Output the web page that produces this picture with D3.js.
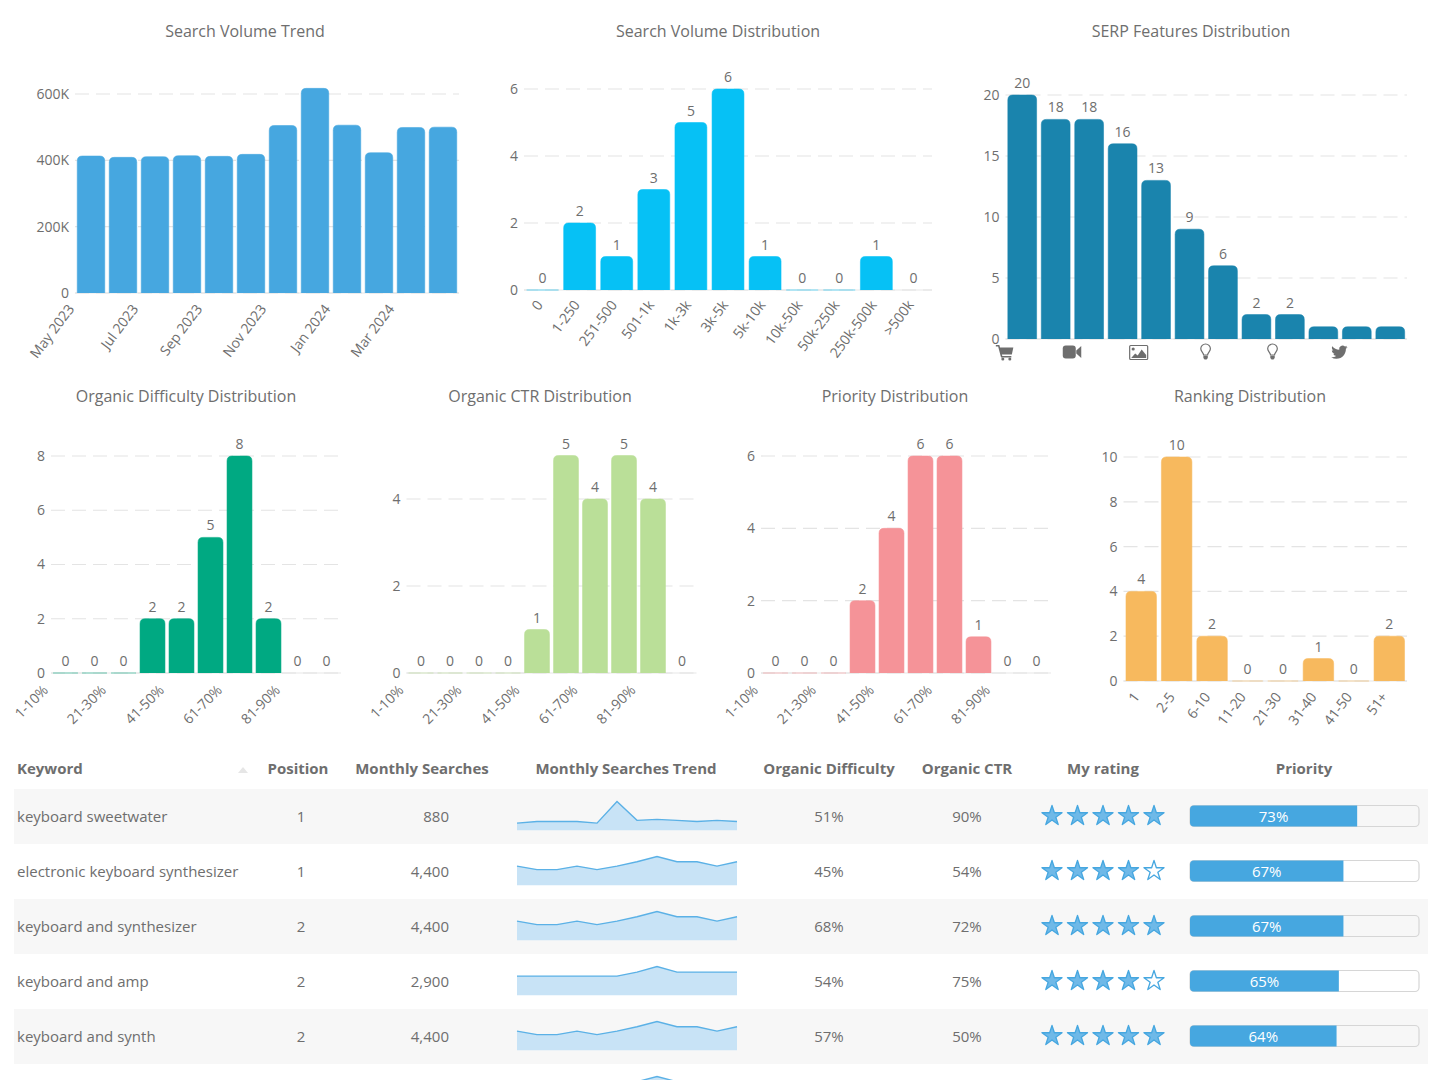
<!DOCTYPE html>
<html>
<head>
<meta charset="utf-8">
<title>Keyword overview</title>
<script src="https://cdn.jsdelivr.net/npm/d3@7"></script>
<style>
    html, body { margin: 0; padding: 0; background: #fff; overflow: hidden; }
    svg { display: block; }
    text { font-family: "Open Sans", sans-serif; fill: #6e6e6e; }
</style>
</head>
<body>
<svg id="page" width="1440" height="1080"></svg>
<script>
// chart data
const trendMonths = ["May 2023", "Jun 2023", "Jul 2023", "Aug 2023", "Sep 2023", "Oct 2023", "Nov 2023", "Dec 2023", "Jan 2024", "Feb 2024", "Mar 2024", "Apr 2024"];
const trendValues = [413000, 409000, 411000, 414000, 412000, 418000, 505000, 617000, 506000, 423000, 499000, 500000];

const volumeBuckets = ["0", "1-250", "251-500", "501-1k", "1k-3k", "3k-5k", "5k-10k", "10k-50k", "50k-250k", "250k-500k", ">500k"];
const volumeCounts = [0, 2, 1, 3, 5, 6, 1, 0, 0, 1, 0];

const serpFeatures = ["shopping", "reviews", "video", "people also ask", "images", "sitelinks", "tips", "knowledge", "answer", "news", "tweets", "local"];
const serpCounts = [20, 18, 18, 16, 13, 9, 6, 2, 2, 1, 1, 1];
const serpIcons = ["cart", "video", "image", "bulb", "bulb", "twitter"];

const percentBuckets = ["1-10%", "11-20%", "21-30%", "31-40%", "41-50%", "51-60%", "61-70%", "71-80%", "81-90%", "91-100%"];
const difficultyCounts = [0, 0, 0, 2, 2, 5, 8, 2, 0, 0];
const ctrCounts = [0, 0, 0, 0, 1, 5, 4, 5, 4, 0];
const priorityCounts = [0, 0, 0, 2, 4, 6, 6, 1, 0, 0];

const rankingBuckets = ["1", "2-5", "6-10", "11-20", "21-30", "31-40", "41-50", "51+"];
const rankingCounts = [4, 10, 2, 0, 0, 1, 0, 2];

// table data
const tableHeaders = ["Keyword", "Position", "Monthly Searches", "Monthly Searches Trend", "Organic Difficulty", "Organic CTR", "My rating", "Priority"];
const keywords = ["keyboard sweetwater", "electronic keyboard synthesizer", "keyboard and synthesizer", "keyboard and amp", "keyboard and synth"];
const positions = [1, 1, 2, 2, 2];
const monthlySearches = [880, 4400, 4400, 2900, 4400];
const difficulties = [51, 45, 68, 54, 57];
const ctrs = [90, 54, 72, 75, 50];
const ratings = [5, 4, 5, 4, 5];
const priorities = [73, 67, 67, 65, 64];
const searchTrends = [
    [720, 880, 880, 880, 720, 2900, 1000, 1100, 1000, 880, 1000, 880],
    [4400, 3600, 3600, 4400, 3600, 4400, 5400, 6600, 5400, 5400, 4400, 5400],
    [4400, 3600, 3600, 4400, 3600, 4400, 5400, 6600, 5400, 5400, 4400, 5400],
    [2400, 2400, 2400, 2400, 2400, 2400, 2900, 3600, 2900, 2900, 2900, 2900],
    [4400, 3600, 3600, 4400, 3600, 4400, 5400, 6600, 5400, 5400, 4400, 5400],
    [4400, 3600, 3600, 4400, 3600, 4400, 5400, 6600, 5400, 5400, 4400, 5400],
];

const svg = d3.select("#page");
const accent = "#46a7e0";

function everyOther(list) {
    return list.filter((d, i) => i % 2 === 0);
}

function topRoundedBar(x, y, w, h, r) {
    const rr = Math.min(r, h);
    return `M${x},${y + h}V${y + rr}Q${x},${y} ${x + rr},${y}H${x + w - rr}Q${x + w},${y} ${x + w},${y + rr}V${y + h}`;
}

function drawBarChart(opts) {
    const g = svg.append("g");
    const x = d3.scaleBand().domain(opts.categories).range([opts.left, opts.right]).paddingInner(0.14).paddingOuter(0.07);
    const y = d3.scaleLinear().domain([0, opts.max]).range([opts.bottom, opts.top]);

    g.append("text").attr("x", opts.titleX).attr("y", opts.titleY).attr("text-anchor", "middle")
        .style("font-size", "16px").text(opts.title);

    // grid
    g.append("line").attr("x1", opts.left).attr("x2", opts.right).attr("y1", opts.bottom).attr("y2", opts.bottom)
        .attr("stroke", "#efefef").attr("stroke-width", 1.5);
    g.selectAll(".grid").data(opts.yTicks).join("line").attr("class", "grid")
        .attr("x1", opts.left).attr("x2", opts.right)
        .attr("y1", d => y(d)).attr("y2", d => y(d))
        .attr("stroke", "#e4e4e4").attr("stroke-width", 1.2).attr("stroke-dasharray", "14,7");

    // y axis
    const yAxis = d3.axisLeft(y).tickValues(opts.yTicks).tickSize(0).tickPadding(6).tickFormat(opts.yFormat || d3.format("d"));
    const yG = g.append("g").attr("transform", `translate(${opts.left},0)`).call(yAxis);
    yG.select(".domain").remove();
    yG.selectAll("text").style("font-size", "14px").style("fill", "#6e6e6e");

    // bars, trailing empty buckets draw nothing
    const lastFilled = d3.max(opts.values.map((d, i) => d > 0 ? i : -1));
    g.selectAll(".bar").data(opts.values).join("path").attr("class", "bar")
        .filter((d, i) => i <= lastFilled)
        .attr("d", (d, i) => topRoundedBar(x(opts.categories[i]), y(d), x.bandwidth(), y(0) - y(d), 5))
        .attr("fill", opts.color).attr("stroke", opts.color).attr("stroke-opacity", 0.55);

    // value labels
    if (opts.showLabels) {
        g.selectAll(".value").data(opts.values).join("text").attr("class", "value")
            .filter(d => d >= opts.labelMin)
            .attr("x", (d, i) => x(opts.categories[i]) + x.bandwidth() / 2)
            .attr("y", d => y(d) - 7)
            .attr("text-anchor", "middle").style("font-size", "14px").text(d => d);
    }

    // x axis
    if (opts.xLabels) {
        const shift = opts.labelAtBandStart ? -x.step() / 2 : 0;
        const xAxis = d3.axisBottom(x).tickValues(opts.xLabels).tickSize(0).tickPadding(0);
        const xG = g.append("g").attr("transform", `translate(0,${opts.bottom})`).call(xAxis);
        xG.select(".domain").remove();
        xG.selectAll("text")
            .attr("text-anchor", "end").attr("x", 0).attr("y", 0).attr("dy", 0)
            .attr("transform", `translate(${shift + opts.labelDx},${opts.labelDy}) rotate(${opts.labelAngle})`)
            .style("font-size", "14px").style("fill", "#6e6e6e");
    }
    return { x, y, g };
}

const bigBase = { showLabels: true, labelMin: 0, labelAtBandStart: false, labelDx: 1, labelDy: 15, labelAngle: -53 };
const smallBase = { showLabels: true, labelMin: 0, labelAtBandStart: true, labelDx: -2, labelDy: 18, labelAngle: -45 };

drawBarChart({ ...bigBase, title: "Search Volume Trend", titleX: 245, titleY: 37, categories: trendMonths, values: trendValues,
    left: 75, right: 459, bottom: 293, top: 94, max: 600000, yTicks: [0, 200000, 400000, 600000],
    yFormat: d => d === 0 ? "0" : `${d / 1000}K`, color: accent, showLabels: false,
    xLabels: everyOther(trendMonths).slice(0, 6), labelAtBandStart: true, labelDx: 0, labelDy: 16 });

drawBarChart({ ...bigBase, title: "Search Volume Distribution", titleX: 718, titleY: 37, categories: volumeBuckets, values: volumeCounts,
    left: 524, right: 932, bottom: 290, top: 89, max: 6, yTicks: [0, 2, 4, 6], color: "#06c1f5", xLabels: volumeBuckets });

const serpChart = drawBarChart({ ...bigBase, title: "SERP Features Distribution", titleX: 1191, titleY: 37, categories: serpFeatures, values: serpCounts,
    left: 1005.5, right: 1407, bottom: 339, top: 95, max: 20, yTicks: [0, 5, 10, 15, 20], color: "#1a84ad", labelMin: 2 });

drawBarChart({ ...smallBase, title: "Organic Difficulty Distribution", titleX: 186, titleY: 402, categories: percentBuckets, values: difficultyCounts,
    left: 51, right: 341, bottom: 673, top: 456, max: 8, yTicks: [0, 2, 4, 6, 8], color: "#00a982", xLabels: everyOther(percentBuckets) });

drawBarChart({ ...smallBase, title: "Organic CTR Distribution", titleX: 540, titleY: 402, categories: percentBuckets, values: ctrCounts,
    left: 406.5, right: 696.5, bottom: 673, top: 499, max: 4, yTicks: [0, 2, 4], color: "#badf98", xLabels: everyOther(percentBuckets) });

drawBarChart({ ...smallBase, title: "Priority Distribution", titleX: 895, titleY: 402, categories: percentBuckets, values: priorityCounts,
    left: 761, right: 1051, bottom: 673, top: 456, max: 6, yTicks: [0, 2, 4, 6], color: "#f59398", xLabels: everyOther(percentBuckets) });

drawBarChart({ ...bigBase, title: "Ranking Distribution", titleX: 1250, titleY: 402, categories: rankingBuckets, values: rankingCounts,
    left: 1123.5, right: 1407, bottom: 681, top: 457, max: 10, yTicks: [0, 2, 4, 6, 8, 10], color: "#f7b95e", xLabels: rankingBuckets, labelDx: -1, labelDy: 16 });

// SERP icons sit under every second bar
function drawIcon(g, name) {
    const c = "#6e6e6e";
    if (name === "cart") {
        g.append("path").attr("fill", c)
            .attr("d", "M-9,-7H-5.5L-4.8,-4.5H8.5L7,2.5H-3L-2.5,4H6.5V5.5H-3.8L-6.7,-5.5H-9Z");
        g.append("circle").attr("cx", -2).attr("cy", 7).attr("r", 1.5).attr("fill", c);
        g.append("circle").attr("cx", 5).attr("cy", 7).attr("r", 1.5).attr("fill", c);
    } else if (name === "video") {
        g.append("rect").attr("x", -9).attr("y", -6.5).attr("width", 13).attr("height", 13).attr("rx", 3).attr("fill", c);
        g.append("path").attr("d", "M4.5,-1.5L9.5,-6V6L4.5,1.5Z").attr("fill", c);
    } else if (name === "image") {
        g.append("rect").attr("x", -9).attr("y", -6.5).attr("width", 18).attr("height", 14).attr("rx", 1)
            .attr("fill", "none").attr("stroke", c).attr("stroke-width", 1.2);
        g.append("circle").attr("cx", -5.5).attr("cy", -3).attr("r", 1.6).attr("fill", c);
        g.append("path").attr("d", "M-7.5,6L-3.5,1.5L-1,3.5L3,-2.5L7.5,3V6Z").attr("fill", c);
    } else if (name === "bulb") {
        g.append("path").attr("fill", "none").attr("stroke", c).attr("stroke-width", 1.2)
            .attr("d", "M-2,3C-2,0.5 -4.8,-0.5 -4.8,-3.2A4.8,4.8 0 0 1 4.8,-3.2C4.8,-0.5 2,0.5 2,3Z");
        g.append("path").attr("fill", c).attr("d", "M-2.2,3.8H2.2V6L1,7.4H-1L-2.2,6Z");
    } else if (name === "twitter") {
        g.append("path").attr("fill", c).attr("transform", "translate(-8.2,-8) scale(0.68)")
            .attr("d", "M23.953 4.57a10 10 0 01-2.825.775 4.958 4.958 0 002.163-2.723c-.951.555-2.005.959-3.127 1.184a4.92 4.92 0 00-8.384 4.482C7.69 8.095 4.067 6.13 1.64 3.162a4.822 4.822 0 00-.666 2.475c0 1.71.87 3.213 2.188 4.096a4.904 4.904 0 01-2.228-.616v.06a4.923 4.923 0 003.946 4.827 4.996 4.996 0 01-2.212.085 4.936 4.936 0 004.604 3.417 9.867 9.867 0 01-6.102 2.105c-.39 0-.779-.023-1.17-.067a13.995 13.995 0 007.557 2.209c9.053 0 13.998-7.496 13.998-13.985 0-.21 0-.42-.015-.63A9.935 9.935 0 0024 4.59z");
    }
}

everyOther(serpFeatures).forEach((feature, i) => {
    const icon = serpChart.g.append("g")
        .attr("transform", `translate(${serpChart.x(feature) - 3},352)`);
    drawIcon(icon, serpIcons[i]);
});

// table
const rowHeight = 55;
const firstRowTop = 789;
const rowCenter = i => firstRowTop + i * rowHeight + 27.5;
const table = svg.append("g");

const headerX = [17, 298, 422, 626, 829, 967, 1103, 1304];
table.selectAll(".head").data(tableHeaders).join("text").attr("class", "head")
    .attr("x", (d, i) => headerX[i]).attr("y", 774)
    .attr("text-anchor", (d, i) => i === 0 ? "start" : "middle")
    .style("font-size", "15px").style("font-weight", 700).text(d => d);
table.append("path").attr("d", "M238,773L243,767L248,773Z").attr("fill", "#e6e6e6");

table.selectAll(".strip").data(searchTrends.map((d, i) => i).filter(i => i % 2 === 0)).join("rect").attr("class", "strip")
    .attr("x", 14).attr("width", 1414)
    .attr("y", i => firstRowTop + i * rowHeight).attr("height", rowHeight)
    .attr("fill", "#f7f7f7");

function cellText(list, x, anchor, format) {
    table.append("g").selectAll("text").data(list).join("text")
        .attr("x", x).attr("y", (d, i) => rowCenter(i) + 5)
        .attr("text-anchor", anchor).style("font-size", "15px").text(format);
}
const commaFormat = d3.format(",");
const percentFormat = d => `${d}%`;
cellText(keywords, 17, "start", d => d);
cellText(positions, 301, "middle", d => d);
cellText(monthlySearches, 449, "end", commaFormat);
cellText(difficulties, 829, "middle", percentFormat);
cellText(ctrs, 967, "middle", percentFormat);

// sparklines
const sparkX = d3.scaleLinear().domain([0, 11]).range([517, 737]);
searchTrends.forEach((series, i) => {
    const cy = rowCenter(i);
    const sparkY = d3.scaleLinear().domain([0, d3.max(series)]).range([cy + 13.8, cy - 15]);
    const area = d3.area().x((d, j) => sparkX(j)).y0(sparkY(0)).y1(d => sparkY(d));
    const line = d3.line().x((d, j) => sparkX(j)).y(d => sparkY(d));
    table.append("path").attr("d", area(series)).attr("fill", "#c8e3f6");
    table.append("path").attr("d", line(series)).attr("fill", "none").attr("stroke", "#5bb1e6").attr("stroke-width", 1.4);
});

// rating stars
const starX = d3.scalePoint().domain([1, 2, 3, 4, 5]).range([1052, 1154]);
const star = d3.symbol().type(d3.symbolStar).size(125);
ratings.forEach((rating, i) => {
    table.append("g").selectAll("path").data(starX.domain()).join("path")
        .attr("d", star)
        .attr("transform", d => `translate(${starX(d)},${rowCenter(i) - 0.5})`)
        .attr("fill", d => d <= rating ? "#6fb9e8" : "#fff")
        .attr("stroke", accent).attr("stroke-width", 1.3).attr("stroke-linejoin", "round");
});

// priority bars
const priorityX = d3.scaleLinear().domain([0, 100]).range([1190, 1419]);
priorities.forEach((p, i) => {
    const top = rowCenter(i) - 11;
    table.append("rect").attr("x", priorityX(0)).attr("y", top).attr("width", priorityX(100) - priorityX(0)).attr("height", 21)
        .attr("rx", 4).attr("fill", i % 2 === 0 ? "#f7f7f7" : "#fff").attr("stroke", "#d6d6d6").attr("stroke-width", 1.2);
    table.append("path")
        .attr("d", `M${priorityX(p)},${top}V${top + 21}H${priorityX(0) + 4}Q${priorityX(0)},${top + 21} ${priorityX(0)},${top + 17}V${top + 4}Q${priorityX(0)},${top} ${priorityX(0) + 4},${top}Z`)
        .attr("fill", accent);
    table.append("text").attr("x", (priorityX(0) + priorityX(p)) / 2).attr("y", rowCenter(i) + 5)
        .attr("text-anchor", "middle").style("font-size", "15px").style("fill", "#fff").text(`${p}%`);
});
</script>
</body>
</html>
